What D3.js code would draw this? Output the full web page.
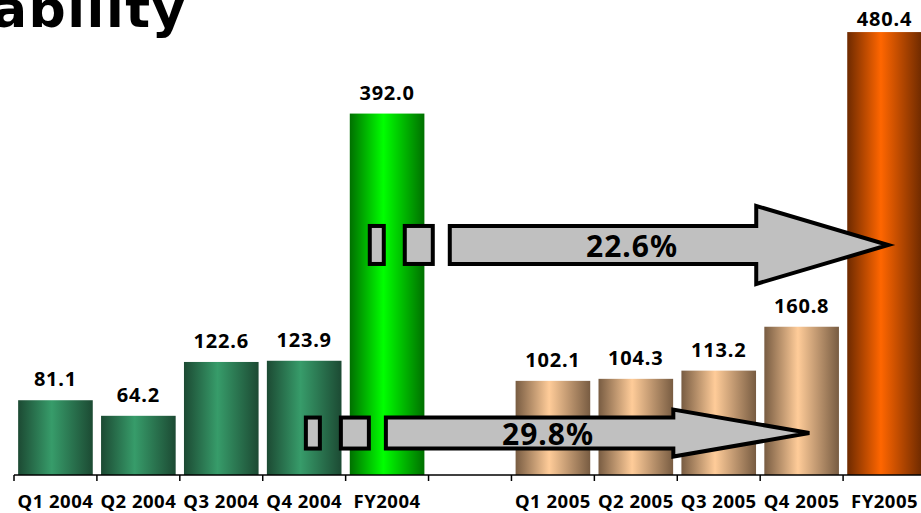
<!DOCTYPE html>
<html><head><meta charset="utf-8">
<script src="https://cdn.jsdelivr.net/npm/d3@7/dist/d3.min.js"></script>
<style>html,body{margin:0;padding:0;background:#fff;overflow:hidden}</style>
</head><body>
<svg id="chart" width="921" height="513"></svg>
<script>
const categories = ["Q1 2004","Q2 2004","Q3 2004","Q4 2004","FY2004","gap","Q1 2005","Q2 2005","Q3 2005","Q4 2005","FY2005"];
const tickLabels = ["Q1 2004","Q2 2004","Q3 2004","Q4 2004","FY2004","","Q1 2005","Q2 2005","Q3 2005","Q4 2005","FY2005"];
const values = [81.1, 64.2, 122.6, 123.9, 392.0, null, 102.1, 104.3, 113.2, 160.8, 480.4];
const valueLabels = ["81.1","64.2","122.6","123.9","392.0","","102.1","104.3","113.2","160.8","480.4"];
const barStyle = ["q04","q04","q04","q04","fy04","","q05","q05","q05","q05","fy05"];
const growthLabels = ["22.6%","29.8%"];
const title = "Profitability";

const svg = d3.select("#chart");
const x = d3.scaleBand().domain(categories).range([14, 926]).paddingInner(0.1).paddingOuter(0.05);
const y = d3.scaleLinear().domain([0, 500]).range([475, 14]);
const FONT = "'Noto Sans', sans-serif";

const grads = {
  q04: ["#1c4a33", "#379c6a", "#1c4a33"],
  fy04: ["#007000", "#00ff00", "#007000"],
  q05: ["#785c42", "#ffcc99", "#785c42"],
  fy05: ["#6e2a00", "#ff6600", "#6e2a00"]
};
const defs = svg.append("defs");
Object.entries(grads).forEach(([k, c]) => {
  const g = defs.append("linearGradient").attr("id", "g_" + k).attr("x1", "0%").attr("x2", "100%").attr("y1", "0%").attr("y2", "0%");
  g.append("stop").attr("offset", "0%").attr("stop-color", c[0]);
  g.append("stop").attr("offset", "45%").attr("stop-color", c[1]);
  g.append("stop").attr("offset", "100%").attr("stop-color", c[2]);
});

// title (partially cut off at the left edge, as in the reference)
svg.append("text").attr("x", 187).attr("y", 27).attr("text-anchor", "end")
  .attr("font-family", "'DejaVu Sans', sans-serif").attr("font-weight", "bold").attr("font-size", 52)
  .attr("letter-spacing", 1.5).attr("fill", "#000").text(title);

const data = categories.map((c, i) => ({c, v: values[i], lab: valueLabels[i], s: barStyle[i]})).filter(d => d.v != null);

svg.append("g").selectAll("rect").data(data).join("rect")
  .attr("x", d => x(d.c)).attr("width", x.bandwidth())
  .attr("y", d => y(d.v)).attr("height", d => y(0) - y(d.v))
  .attr("fill", d => "url(#g_" + d.s + ")");

svg.append("g").selectAll("text").data(data).join("text")
  .attr("x", d => x(d.c) + x.bandwidth() / 2).attr("y", d => Math.max(y(d.v) - 14, 26))
  .attr("text-anchor", "middle").attr("font-family", FONT).attr("letter-spacing", 0.8)
  .attr("font-weight", "bold").attr("font-size", 20).attr("fill", "#000").text(d => d.lab);

// axis
const step = x.step();
const half = step * x.paddingInner() / 2;
const ax = svg.append("g");
ax.append("line").attr("x1", x(categories[0]) - half).attr("x2", 921).attr("y1", y(0)).attr("y2", y(0))
  .attr("stroke", "#000").attr("stroke-width", 1.5);
categories.forEach(c => {
  const tx = x(c) - half;
  ax.append("line").attr("x1", tx).attr("x2", tx).attr("y1", y(0)).attr("y2", y(0) + 6).attr("stroke", "#000").attr("stroke-width", 1.5);
});
ax.selectAll("text").data(categories).join("text")
  .attr("x", c => x(c) + x.bandwidth() / 2).attr("y", 508).attr("text-anchor", "middle")
  .attr("font-family", FONT).attr("font-weight", "bold").attr("font-size", 18.5).attr("letter-spacing", 0.5)
  .text((c, i) => tickLabels[i]);

// growth arrows
function growthArrow(fromCat, boxOffset, toCat, tipOffset, headLen, yVal, bodyH, headH, label, labelX) {
  const cy = y(yVal);
  const bx = x(fromCat) + boxOffset;
  const tip = x(toCat) + tipOffset;
  const g = svg.append("g").attr("fill", "#c0c0c0").attr("stroke", "#000").attr("stroke-width", 4).attr("stroke-linejoin", "miter");
  g.append("rect").attr("x", bx).attr("y", cy - bodyH / 2).attr("width", 14).attr("height", bodyH);
  g.append("rect").attr("x", bx + 35).attr("y", cy - bodyH / 2).attr("width", 28).attr("height", bodyH);
  const sx = bx + 80;
  const hx = tip - headLen;
  const pts = [[sx, cy - bodyH / 2], [hx, cy - bodyH / 2], [hx, cy - headH / 2], [tip, cy], [hx, cy + headH / 2], [hx, cy + bodyH / 2], [sx, cy + bodyH / 2]];
  g.append("polygon").attr("points", pts.map(p => p.join(",")).join(" "));
  svg.append("text").attr("x", labelX).attr("y", cy + 12).attr("text-anchor", "middle")
    .attr("font-family", FONT).attr("font-weight", "bold").attr("font-size", 30).attr("letter-spacing", 1).text(label);
}
growthArrow("FY2004", 20, "FY2005", 41, 132, 249.5, 38, 78, growthLabels[0], 632);
growthArrow("Q4 2004", 39, "Q4 2005", 45, 136, 45.5, 31, 47, growthLabels[1], 548);
</script>
</body></html>
